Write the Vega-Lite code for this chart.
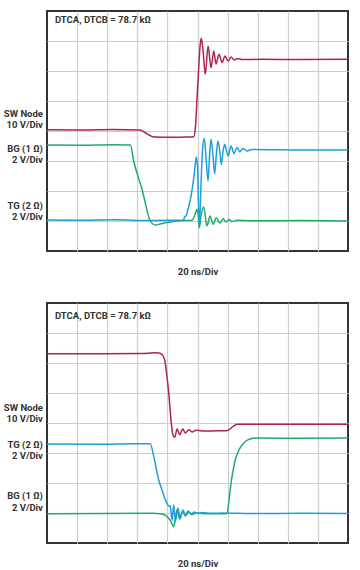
{
  "$schema": "https://vega.github.io/schema/vega-lite/v6.json",
  "background": "white",
  "padding": {"left": 2, "top": 10, "right": 5, "bottom": 5},
  "spacing": 25,
  "config": {
    "font": "Roboto",
    "view": {"stroke": "#333333", "strokeWidth": 2},
    "axis": {"labels": false, "ticks": false, "domain": false, "grid": true, "gridColor": "#cdcdcd", "gridWidth": 1.2, "gridOpacity": 1}
  },
  "vconcat": [
    {
      "width": 301, "height": 240,
      "encoding": {
        "x": {"field": "t", "type": "quantitative", "scale": {"domain": [0, 200], "nice": false, "zero": false}, "title": "20 ns/Div", "axis": {"values": [20, 40, 60, 80, 100, 120, 140, 160, 180], "titleFontSize": 9.5, "titleFontWeight": "bold", "titleColor": "#333", "titlePadding": 15}},
        "y": {"field": "y", "type": "quantitative", "scale": {"domain": [0, 8], "nice": false}, "axis": {"values": [1, 2, 3, 4, 5, 6, 7], "title": null}}
      },
      "layer": [
        {
          "data": {"values": [
            {"s": "SW", "t": 0, "y": 4.043}, {"s": "SW", "t": 23.3, "y": 4.033}, {"s": "SW", "t": 43.2, "y": 4.05}, {"s": "SW", "t": 61.8, "y": 4.033}, {"s": "SW", "t": 65.1, "y": 3.95}, {"s": "SW", "t": 68.4, "y": 3.85}, {"s": "SW", "t": 71.1, "y": 3.8}, {"s": "SW", "t": 83.1, "y": 3.793}, {"s": "SW", "t": 93.0, "y": 3.8}, {"s": "SW", "t": 97.5, "y": 3.81}, {"s": "SW", "t": 98.7, "y": 4.17}, {"s": "SW", "t": 99.7, "y": 5.1}, {"s": "SW", "t": 100.7, "y": 6.0}, {"s": "SW", "t": 101.7, "y": 6.83}, {"s": "SW", "t": 102.5, "y": 7.09}, {"s": "SW", "t": 103.7, "y": 6.67}, {"s": "SW", "t": 105.2, "y": 5.89}, {"s": "SW", "t": 107.0, "y": 6.83}, {"s": "SW", "t": 109.0, "y": 6.11}, {"s": "SW", "t": 110.8, "y": 6.67}, {"s": "SW", "t": 112.3, "y": 6.23}, {"s": "SW", "t": 114.3, "y": 6.56}, {"s": "SW", "t": 116.3, "y": 6.28}, {"s": "SW", "t": 118.3, "y": 6.5}, {"s": "SW", "t": 120.3, "y": 6.33}, {"s": "SW", "t": 122.3, "y": 6.47}, {"s": "SW", "t": 124.3, "y": 6.37}, {"s": "SW", "t": 126.9, "y": 6.42}, {"s": "SW", "t": 129.6, "y": 6.38}, {"s": "SW", "t": 142.9, "y": 6.39}, {"s": "SW", "t": 169.4, "y": 6.38}, {"s": "SW", "t": 200, "y": 6.39},
            {"s": "BG", "t": 0, "y": 3.533}, {"s": "BG", "t": 23.3, "y": 3.523}, {"s": "BG", "t": 43.2, "y": 3.54}, {"s": "BG", "t": 55.4, "y": 3.533}, {"s": "BG", "t": 57.6, "y": 3.0}, {"s": "BG", "t": 63.1, "y": 2.067}, {"s": "BG", "t": 68.6, "y": 1.0}, {"s": "BG", "t": 70.4, "y": 0.9}, {"s": "BG", "t": 71.97, "y": 0.867}, {"s": "BG", "t": 75.1, "y": 0.9}, {"s": "BG", "t": 79.7, "y": 0.95}, {"s": "BG", "t": 86.4, "y": 1.0}, {"s": "BG", "t": 90.8, "y": 1.017}, {"s": "BG", "t": 96.4, "y": 1.023}, {"s": "BG", "t": 98.5, "y": 1.233}, {"s": "BG", "t": 99.7, "y": 1.39}, {"s": "BG", "t": 100.5, "y": 1.167}, {"s": "BG", "t": 101.2, "y": 0.777}, {"s": "BG", "t": 102.3, "y": 1.167}, {"s": "BG", "t": 104.1, "y": 1.467}, {"s": "BG", "t": 106.3, "y": 0.833}, {"s": "BG", "t": 108.3, "y": 1.167}, {"s": "BG", "t": 110.3, "y": 0.89}, {"s": "BG", "t": 112.5, "y": 1.11}, {"s": "BG", "t": 114.8, "y": 0.933}, {"s": "BG", "t": 117.0, "y": 1.077}, {"s": "BG", "t": 118.9, "y": 0.967}, {"s": "BG", "t": 120.9, "y": 1.05}, {"s": "BG", "t": 122.9, "y": 0.983}, {"s": "BG", "t": 126.3, "y": 1.023}, {"s": "BG", "t": 136.2, "y": 1.007}, {"s": "BG", "t": 169.4, "y": 1.013}, {"s": "BG", "t": 200, "y": 1.0},
            {"s": "TG", "t": 0, "y": 1.033}, {"s": "TG", "t": 23.3, "y": 1.023}, {"s": "TG", "t": 43.2, "y": 1.04}, {"s": "TG", "t": 69.8, "y": 1.017}, {"s": "TG", "t": 90.8, "y": 1.033}, {"s": "TG", "t": 91.4, "y": 1.133}, {"s": "TG", "t": 92.4, "y": 1.167}, {"s": "TG", "t": 93.7, "y": 1.4}, {"s": "TG", "t": 95.7, "y": 1.833}, {"s": "TG", "t": 97.7, "y": 2.5}, {"s": "TG", "t": 99.2, "y": 3.133}, {"s": "TG", "t": 100.0, "y": 2.83}, {"s": "TG", "t": 101.2, "y": 0.777}, {"s": "TG", "t": 102.3, "y": 2.167}, {"s": "TG", "t": 103.3, "y": 3.33}, {"s": "TG", "t": 104.5, "y": 3.757}, {"s": "TG", "t": 105.6, "y": 3.167}, {"s": "TG", "t": 107.0, "y": 2.333}, {"s": "TG", "t": 108.0, "y": 3.167}, {"s": "TG", "t": 109.0, "y": 3.723}, {"s": "TG", "t": 110.3, "y": 3.167}, {"s": "TG", "t": 111.4, "y": 2.577}, {"s": "TG", "t": 112.6, "y": 3.267}, {"s": "TG", "t": 113.6, "y": 3.667}, {"s": "TG", "t": 114.8, "y": 3.333}, {"s": "TG", "t": 115.8, "y": 2.89}, {"s": "TG", "t": 117.0, "y": 3.333}, {"s": "TG", "t": 118.1, "y": 3.557}, {"s": "TG", "t": 119.3, "y": 3.333}, {"s": "TG", "t": 120.3, "y": 3.167}, {"s": "TG", "t": 122.3, "y": 3.5}, {"s": "TG", "t": 124.3, "y": 3.243}, {"s": "TG", "t": 126.3, "y": 3.45}, {"s": "TG", "t": 128.2, "y": 3.3}, {"s": "TG", "t": 130.2, "y": 3.417}, {"s": "TG", "t": 132.9, "y": 3.333}, {"s": "TG", "t": 136.2, "y": 3.383}, {"s": "TG", "t": 169.4, "y": 3.367}, {"s": "TG", "t": 200, "y": 3.367}
          ]},
          "mark": {"type": "line", "strokeWidth": 1.5, "interpolate": "monotone", "clip": true},
          "encoding": {
            "color": {"field": "s", "type": "nominal", "scale": {"domain": ["SW", "BG", "TG"], "range": ["#ac2450", "#20ab6b", "#1f9fd9"]}, "legend": null},
            "order": {"field": "t", "type": "quantitative"}
          }
        },
        {
          "data": {"values": [
            {"t": -2.7, "y": 4.4, "l1": "SW Node", "l2": "10 V/Div"},
            {"t": -2.7, "y": 3.23, "l1": "BG (1 Ω)", "l2": "2 V/Div"},
            {"t": -2.7, "y": 1.33, "l1": "TG (2 Ω)", "l2": "2 V/Div"}
          ]},
          "mark": {"type": "text", "fontSize": 9.5, "fontWeight": "bold", "color": "#333", "baseline": "middle", "align": "right", "lineHeight": 11.5},
          "encoding": {"text": {"field": "l1"}, "yOffset": {"value": -5.5}}
        },
        {
          "data": {"values": [
            {"t": -2.7, "y": 4.4, "l1": "SW Node", "l2": "10 V/Div"},
            {"t": -2.7, "y": 3.23, "l1": "BG (1 Ω)", "l2": "2 V/Div"},
            {"t": -2.7, "y": 1.33, "l1": "TG (2 Ω)", "l2": "2 V/Div"}
          ]},
          "mark": {"type": "text", "fontSize": 9.5, "fontWeight": "bold", "color": "#333", "baseline": "middle", "align": "right"},
          "encoding": {"text": {"field": "l2"}, "yOffset": {"value": 6}}
        },
        {
          "data": {"values": [{"t": 5.3, "y": 7.7, "label": "DTCA, DTCB = 78.7 kΩ"}]},
          "mark": {"type": "text", "fontSize": 9.5, "fontWeight": "bold", "color": "#333", "baseline": "middle", "align": "left"},
          "encoding": {"text": {"field": "label"}}
        }
      ]
    },
    {
      "width": 301, "height": 240,
      "encoding": {
        "x": {"field": "t", "type": "quantitative", "scale": {"domain": [0, 200], "nice": false, "zero": false}, "title": "20 ns/Div", "axis": {"values": [20, 40, 60, 80, 100, 120, 140, 160, 180], "titleFontSize": 9.5, "titleFontWeight": "bold", "titleColor": "#333", "titlePadding": 15}},
        "y": {"field": "y", "type": "quantitative", "scale": {"domain": [0, 8], "nice": false}, "axis": {"values": [1, 2, 3, 4, 5, 6, 7], "title": null}}
      },
      "layer": [
        {
          "data": {"values": [
            {"s": "SW", "t": 0, "y": 6.31}, {"s": "SW", "t": 36.5, "y": 6.307}, {"s": "SW", "t": 63.1, "y": 6.317}, {"s": "SW", "t": 71.1, "y": 6.34}, {"s": "SW", "t": 74.4, "y": 6.333}, {"s": "SW", "t": 76.4, "y": 6.283}, {"s": "SW", "t": 78.2, "y": 6.11}, {"s": "SW", "t": 79.4, "y": 5.667}, {"s": "SW", "t": 80.9, "y": 5.0}, {"s": "SW", "t": 81.7, "y": 4.5}, {"s": "SW", "t": 82.6, "y": 4.0}, {"s": "SW", "t": 83.7, "y": 3.6}, {"s": "SW", "t": 84.9, "y": 3.523}, {"s": "SW", "t": 86.4, "y": 3.8}, {"s": "SW", "t": 88.2, "y": 3.61}, {"s": "SW", "t": 90.2, "y": 3.8}, {"s": "SW", "t": 91.9, "y": 3.667}, {"s": "SW", "t": 94.2, "y": 3.777}, {"s": "SW", "t": 96.4, "y": 3.7}, {"s": "SW", "t": 99.0, "y": 3.76}, {"s": "SW", "t": 103.0, "y": 3.733}, {"s": "SW", "t": 113.0, "y": 3.74}, {"s": "SW", "t": 119.6, "y": 3.743}, {"s": "SW", "t": 121.6, "y": 3.8}, {"s": "SW", "t": 123.6, "y": 3.883}, {"s": "SW", "t": 126.3, "y": 3.957}, {"s": "SW", "t": 136.2, "y": 3.96}, {"s": "SW", "t": 169.4, "y": 3.957}, {"s": "SW", "t": 200, "y": 3.957},
            {"s": "BG", "t": 0, "y": 0.977}, {"s": "BG", "t": 36.5, "y": 0.983}, {"s": "BG", "t": 69.8, "y": 0.99}, {"s": "BG", "t": 76.4, "y": 0.967}, {"s": "BG", "t": 79.7, "y": 0.883}, {"s": "BG", "t": 81.7, "y": 0.767}, {"s": "BG", "t": 83.1, "y": 0.633}, {"s": "BG", "t": 84.2, "y": 0.543}, {"s": "BG", "t": 85.4, "y": 0.833}, {"s": "BG", "t": 86.4, "y": 1.1}, {"s": "BG", "t": 88.2, "y": 0.8}, {"s": "BG", "t": 90.2, "y": 1.067}, {"s": "BG", "t": 91.9, "y": 0.9}, {"s": "BG", "t": 94.2, "y": 1.033}, {"s": "BG", "t": 96.4, "y": 0.95}, {"s": "BG", "t": 99.0, "y": 1.0}, {"s": "BG", "t": 103.0, "y": 0.983}, {"s": "BG", "t": 109.6, "y": 0.973}, {"s": "BG", "t": 119.6, "y": 0.977}, {"s": "BG", "t": 120.3, "y": 1.167}, {"s": "BG", "t": 121.0, "y": 1.443}, {"s": "BG", "t": 122.3, "y": 2.0}, {"s": "BG", "t": 123.6, "y": 2.4}, {"s": "BG", "t": 124.9, "y": 2.733}, {"s": "BG", "t": 126.9, "y": 3.033}, {"s": "BG", "t": 129.6, "y": 3.267}, {"s": "BG", "t": 132.2, "y": 3.4}, {"s": "BG", "t": 134.9, "y": 3.467}, {"s": "BG", "t": 139.5, "y": 3.5}, {"s": "BG", "t": 169.4, "y": 3.49}, {"s": "BG", "t": 200, "y": 3.5},
            {"s": "TG", "t": 0, "y": 3.3}, {"s": "TG", "t": 36.5, "y": 3.29}, {"s": "TG", "t": 56.5, "y": 3.31}, {"s": "TG", "t": 68.6, "y": 3.31}, {"s": "TG", "t": 70.9, "y": 2.89}, {"s": "TG", "t": 74.2, "y": 2.11}, {"s": "TG", "t": 76.4, "y": 1.767}, {"s": "TG", "t": 78.6, "y": 1.443}, {"s": "TG", "t": 81.3, "y": 1.223}, {"s": "TG", "t": 81.9, "y": 1.243}, {"s": "TG", "t": 83.1, "y": 0.757}, {"s": "TG", "t": 84.2, "y": 1.277}, {"s": "TG", "t": 85.3, "y": 0.723}, {"s": "TG", "t": 87.0, "y": 1.167}, {"s": "TG", "t": 88.4, "y": 0.833}, {"s": "TG", "t": 90.4, "y": 1.1}, {"s": "TG", "t": 91.9, "y": 0.933}, {"s": "TG", "t": 93.7, "y": 1.067}, {"s": "TG", "t": 95.7, "y": 0.95}, {"s": "TG", "t": 97.7, "y": 1.033}, {"s": "TG", "t": 100.3, "y": 0.983}, {"s": "TG", "t": 103.0, "y": 1.017}, {"s": "TG", "t": 109.6, "y": 0.99}, {"s": "TG", "t": 116.3, "y": 1.0}, {"s": "TG", "t": 136.2, "y": 0.983}, {"s": "TG", "t": 169.4, "y": 0.99}, {"s": "TG", "t": 200, "y": 0.983}
          ]},
          "mark": {"type": "line", "strokeWidth": 1.5, "interpolate": "monotone", "clip": true},
          "encoding": {
            "color": {"field": "s", "type": "nominal", "scale": {"domain": ["SW", "BG", "TG"], "range": ["#ac2450", "#20ab6b", "#1f9fd9"]}, "legend": null},
            "order": {"field": "t", "type": "quantitative"}
          }
        },
        {
          "data": {"values": [
            {"t": -2.7, "y": 4.33, "l1": "SW Node", "l2": "10 V/Div"},
            {"t": -2.7, "y": 3.1, "l1": "TG (2 Ω)", "l2": "2 V/Div"},
            {"t": -2.7, "y": 1.38, "l1": "BG (1 Ω)", "l2": "2 V/Div"}
          ]},
          "mark": {"type": "text", "fontSize": 9.5, "fontWeight": "bold", "color": "#333", "baseline": "middle", "align": "right"},
          "encoding": {"text": {"field": "l1"}, "yOffset": {"value": -5.5}}
        },
        {
          "data": {"values": [
            {"t": -2.7, "y": 4.33, "l1": "SW Node", "l2": "10 V/Div"},
            {"t": -2.7, "y": 3.1, "l1": "TG (2 Ω)", "l2": "2 V/Div"},
            {"t": -2.7, "y": 1.38, "l1": "BG (1 Ω)", "l2": "2 V/Div"}
          ]},
          "mark": {"type": "text", "fontSize": 9.5, "fontWeight": "bold", "color": "#333", "baseline": "middle", "align": "right"},
          "encoding": {"text": {"field": "l2"}, "yOffset": {"value": 6}}
        },
        {
          "data": {"values": [{"t": 5.3, "y": 7.58, "label": "DTCA, DTCB = 78.7 kΩ"}]},
          "mark": {"type": "text", "fontSize": 9.5, "fontWeight": "bold", "color": "#333", "baseline": "middle", "align": "left"},
          "encoding": {"text": {"field": "label"}}
        }
      ]
    }
  ]
}
